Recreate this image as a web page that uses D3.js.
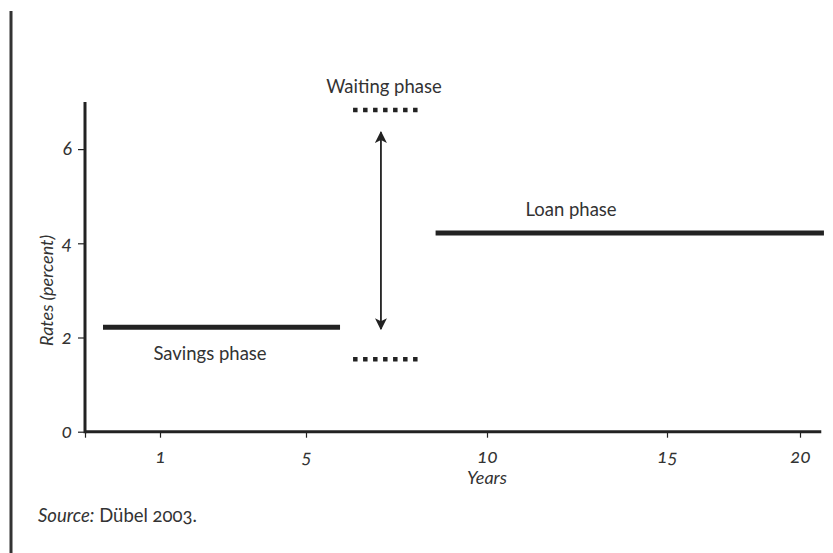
<!DOCTYPE html>
<html><head><meta charset="utf-8">
<script src="https://cdn.jsdelivr.net/npm/d3@7"></script>
<style>
body{margin:0;background:#fff;}
svg text{font-family:Lato,"Open Sans",sans-serif;fill:#333;font-feature-settings:"onum";}
</style></head>
<body><svg id="c" width="833" height="553"></svg>
<script>
// ---- data ----
const xTicks = [1, 5, 10, 15, 20];
const yTicks = [0, 2, 4, 6];
const phaseNames = ["Savings phase", "Waiting phase", "Loan phase"];
const savings = {x0: 0.24, x1: 5.94, y: 2.22};
const loan = {x0: 8.58, x1: 20.9, y: 4.22};
const waitingTop = {x0: 6.3, x1: 8.17, y: 6.83};
const waitingBottom = {x0: 6.3, x1: 8.17, y: 1.54};
const arrowX = 7.07, arrowFrom = 2.18, arrowTo = 6.36;
const xDomainEnd = 20.8, yDomainTop = 7;

const svg = d3.select("#c");
const ink = "#222";
const fs = 18;

// irregular hand-drawn axis: piecewise linear scale through tick years
const x = d3.scaleLinear().domain([0, 1, 5, 10, 15, 20]).range([85, 160, 306, 487, 667, 800]);
const y = d3.scaleLinear().domain([0, yDomainTop]).range([431.7, 102]);

// left border
svg.append("line").attr("x1", 11).attr("x2", 11).attr("y1", 11).attr("y2", 553)
  .attr("stroke", "#333").attr("stroke-width", 3);

// axes
const xAxis = svg.append("g").attr("transform", `translate(0,${y(0)})`)
  .call(d3.axisBottom(x).tickValues([0, ...xTicks]).tickSize(6).tickFormat(d => d === 0 ? "" : d));
xAxis.select(".domain").remove();
xAxis.selectAll(".tick line").attr("stroke", ink).attr("stroke-width", 1.2);
xAxis.selectAll(".tick text").attr("dy", "1.2em").attr("font-size", fs + 1).attr("font-style", "italic");

const yAxis = svg.append("g").attr("transform", `translate(${x(0)},0)`)
  .call(d3.axisLeft(y).tickValues(yTicks).tickSize(7).tickPadding(6).tickFormat(d3.format("d")));
yAxis.select(".domain").remove();
yAxis.selectAll(".tick line").attr("stroke", ink).attr("stroke-width", 1.2);
yAxis.selectAll(".tick text").attr("font-size", fs + 1).attr("font-style", "italic").attr("dy", "0.3em");

svg.append("line").attr("x1", x(0)).attr("x2", x(xDomainEnd)).attr("y1", y(0)).attr("y2", y(0))
  .attr("stroke", ink).attr("stroke-width", 3);
svg.append("line").attr("x1", x(0)).attr("x2", x(0)).attr("y1", y(0) + 1.5).attr("y2", y(yDomainTop))
  .attr("stroke", ink).attr("stroke-width", 3);

// axis titles
svg.append("text").attr("x", x(10)).attr("y", 484).attr("text-anchor", "middle")
  .attr("font-size", fs).attr("font-style", "italic").text("Years");
svg.append("text").attr("transform", `translate(53,${y(3)}) rotate(-90)`).attr("text-anchor", "middle")
  .attr("font-size", fs).attr("font-style", "italic").text("Rates (percent)");

// phase lines
[savings, loan].forEach(s => {
  svg.append("line").attr("x1", x(s.x0)).attr("x2", x(s.x1)).attr("y1", y(s.y)).attr("y2", y(s.y))
    .attr("stroke", ink).attr("stroke-width", 5);
});
[waitingTop, waitingBottom].forEach(s => {
  svg.append("line").attr("x1", x(s.x0)).attr("x2", x(s.x1)).attr("y1", y(s.y)).attr("y2", y(s.y))
    .attr("stroke", ink).attr("stroke-width", 4.5).attr("stroke-dasharray", "4.5,5.5");
});

// double arrow
const defs = svg.append("defs");
defs.append("marker").attr("id", "ah").attr("viewBox", "0 0 10 10").attr("refX", 9).attr("refY", 5)
  .attr("markerWidth", 12).attr("markerHeight", 12).attr("markerUnits", "userSpaceOnUse")
  .attr("orient", "auto-start-reverse")
  .append("path").attr("d", "M0,0 L10,5 L0,10 L2.5,5 Z").attr("fill", ink);
svg.append("line").attr("x1", x(arrowX)).attr("x2", x(arrowX)).attr("y1", y(arrowFrom)).attr("y2", y(arrowTo))
  .attr("stroke", ink).attr("stroke-width", 1.8)
  .attr("marker-start", "url(#ah)").attr("marker-end", "url(#ah)");

// phase labels
svg.append("text").attr("x", 210).attr("y", 360).attr("text-anchor", "middle").attr("font-size", fs + 0.5).text(phaseNames[0]);
svg.append("text").attr("x", 384).attr("y", 93).attr("text-anchor", "middle").attr("font-size", fs + 0.5).text(phaseNames[1]);
svg.append("text").attr("x", 571).attr("y", 216).attr("text-anchor", "middle").attr("font-size", fs + 0.5).text(phaseNames[2]);

// source
const src = svg.append("text").attr("x", 38).attr("y", 522).attr("font-size", fs + 0.5);
src.append("tspan").attr("font-style", "italic").text("Source:");
src.append("tspan").text(" Dübel 2003.");
</script></body></html>
